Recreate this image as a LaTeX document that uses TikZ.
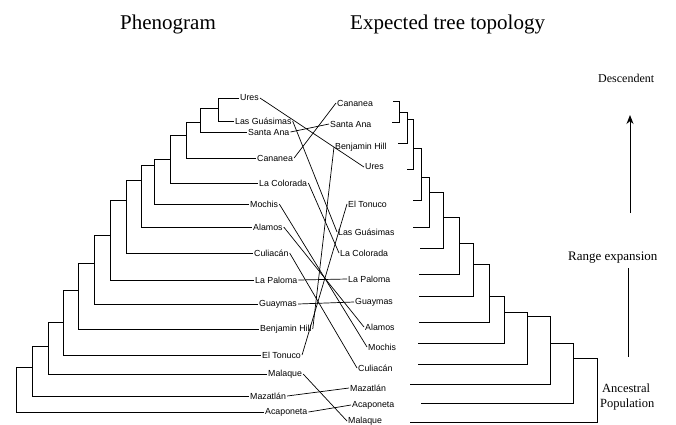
\documentclass[tikz,border=0pt]{standalone}
\usepackage{fontspec}
\setmainfont{Liberation Serif}
\newfontfamily\lblfont{Liberation Sans}
\usetikzlibrary{arrows.meta}
\begin{document}
\begin{tikzpicture}[x=1pt,y=-1pt,
  tree/.style={line width=0.7pt, line join=miter},
  link/.style={line width=0.7pt},
  lbl/.style={font=\lblfont\fontsize{8.8}{9}\selectfont, anchor=west, inner sep=1pt},
  head/.style={font=\fontsize{21}{21}\selectfont, anchor=base west, inner sep=0pt},
  side/.style={font=\fontsize{12.5}{13}\selectfont, anchor=base west, inner sep=0pt}]
\useasboundingbox (0,0) rectangle (676,424);
\fill[white] (0,0) rectangle (676,424);

% headings
\node[head] (hPhen) at (120,29) {Phenogram};
\node[head] (hExp) at (350,29) {Expected tree topology};

% left labels
\node[lbl] (lUres) at (239,98) {Ures};
\node[lbl] (lLG) at (234,121) {Las Guásimas};
\node[lbl] (lSA) at (247,132) {Santa Ana};
\node[lbl] (lCan) at (256,158) {Cananea};
\node[lbl] (lLC) at (258,183) {La Colorada};
\node[lbl] (lMoc) at (249,204) {Mochis};
\node[lbl] (lAla) at (252,227) {Alamos};
\node[lbl] (lCul) at (253,253) {Culiacán};
\node[lbl] (lLP) at (254,280) {La Paloma};
\node[lbl] (lGua) at (258,304) {Guaymas};
\node[lbl] (lBH) at (259,329) {Benjamin Hill};
\node[lbl] (lET) at (261,355) {El Tonuco};
\node[lbl] (lMal) at (267,374) {Malaque};
\node[lbl] (lMaz) at (249,396) {Mazatlán};
\node[lbl] (lAca) at (264,412) {Acaponeta};

% right labels
\node[lbl] (rCan) at (336,103) {Cananea};
\node[lbl] (rSA) at (329,124) {Santa Ana};
\node[lbl] (rBH) at (334,147) {Benjamin Hill};
\node[lbl] (rUres) at (364,167) {Ures};
\node[lbl] (rET) at (347,204) {El Tonuco};
\node[lbl] (rLG) at (337,232) {Las Guásimas};
\node[lbl] (rLC) at (339,253) {La Colorada};
\node[lbl] (rLP) at (347,279) {La Paloma};
\node[lbl] (rGua) at (354,302) {Guaymas};
\node[lbl] (rAla) at (364,327) {Alamos};
\node[lbl] (rMoc) at (367,347) {Mochis};
\node[lbl] (rCul) at (357,368) {Culiacán};
\node[lbl] (rMaz) at (349,388) {Mazatlán};
\node[lbl] (rAca) at (351,405) {Acaponeta};
\node[lbl] (rMal) at (347,421) {Malaque};

% phenogram
\draw[tree] (lUres.west) -- (218,98) -- (218,121) -- (lLG.west);
\draw[tree] (218,108) -- (200,108) -- (200,132) -- (lSA.west);
\draw[tree] (200,122) -- (186,122) -- (186,158) -- (lCan.west);
\draw[tree] (186,135) -- (170,135) -- (170,183) -- (lLC.west);
\draw[tree] (170,159) -- (154,159) -- (154,204) -- (lMoc.west);
\draw[tree] (154,165) -- (141,165) -- (141,227) -- (lAla.west);
\draw[tree] (141,180) -- (126,180) -- (126,253) -- (lCul.west);
\draw[tree] (126,200) -- (110,200) -- (110,280) -- (lLP.west);
\draw[tree] (110,235) -- (94,235) -- (94,304) -- (lGua.west);
\draw[tree] (94,263) -- (78,263) -- (78,329) -- (lBH.west);
\draw[tree] (78,290) -- (63,290) -- (63,355) -- (lET.west);
\draw[tree] (63,322) -- (48,322) -- (48,374) -- (lMal.west);
\draw[tree] (48,346) -- (32,346) -- (32,396) -- (lMaz.west);
\draw[tree] (32,367) -- (16,367) -- (16,412) -- (lAca.west);

% expected tree
\draw[tree] (393,101) -- (399,101) -- (399,122) -- (392,122);
\draw[tree] (399,112) -- (407,112) -- (407,143) -- (398,143);
\draw[tree] (407,119) -- (413,119) -- (413,169) -- (407,169);
\draw[tree] (413,148) -- (421,148) -- (421,200) -- (413,200);
\draw[tree] (421,177) -- (429,177) -- (429,227) -- (413,227);
\draw[tree] (429,192) -- (443,192) -- (443,248) -- (420,248);
\draw[tree] (443,217) -- (459,217) -- (459,274) -- (419,274);
\draw[tree] (459,243) -- (473,243) -- (473,296) -- (419,296);
\draw[tree] (473,264) -- (489,264) -- (489,322) -- (419,322);
\draw[tree] (489,296) -- (504,296) -- (504,343) -- (418,343);
\draw[tree] (504,312) -- (527,312) -- (527,364) -- (418,364);
\draw[tree] (527,316) -- (550,316) -- (550,384) -- (410,384);
\draw[tree] (550,343) -- (573,343) -- (573,403) -- (421,403);
\draw[tree] (573,358) -- (597,358) -- (597,422) -- (410,422);

% connectors
\draw[link] (lUres.east) -- (rUres.west);
\draw[link] (lLG.east) -- (rLG.west);
\draw[link] (lSA.east) -- (rSA.west);
\draw[link] (lCan.east) -- (rCan.west);
\draw[link] (lLC.east) -- (rLC.west);
\draw[link] (lMoc.east) -- (rMoc.west);
\draw[link] (lAla.east) -- (rAla.west);
\draw[link] (lCul.east) -- (rCul.west);
\draw[link] (lLP.east) -- (rLP.west);
\draw[link] (lGua.east) -- (rGua.west);
\draw[link] (lBH.east) -- (rBH.west);
\draw[link] (lET.east) -- (rET.west);
\draw[link] (lMal.east) -- (rMal.west);
\draw[link] (lMaz.east) -- (rMaz.west);
\draw[link] (lAca.east) -- (rAca.west);

% right side annotation
\node[side, font=\fontsize{12}{12}\selectfont] (tDesc) at (598,82) {Descendent};
\coordinate (arB) at (630,213);
\coordinate (arT) at (630,115);
\draw[line width=1pt, -{Stealth[length=9pt,width=7pt]}] (arB) -- (arT);
\node[side, font=\fontsize{13}{13}\selectfont] (tRange) at (568,260) {Range expansion};
\coordinate (vlT) at (628,268);
\coordinate (vlB) at (628,357);
\draw[line width=0.8pt] (vlT) -- (vlB);
\node[side] (tAnc) at (602,392) {Ancestral};
\node[side] (tPop) at (600,407) {Population};
\end{tikzpicture}
\end{document}
